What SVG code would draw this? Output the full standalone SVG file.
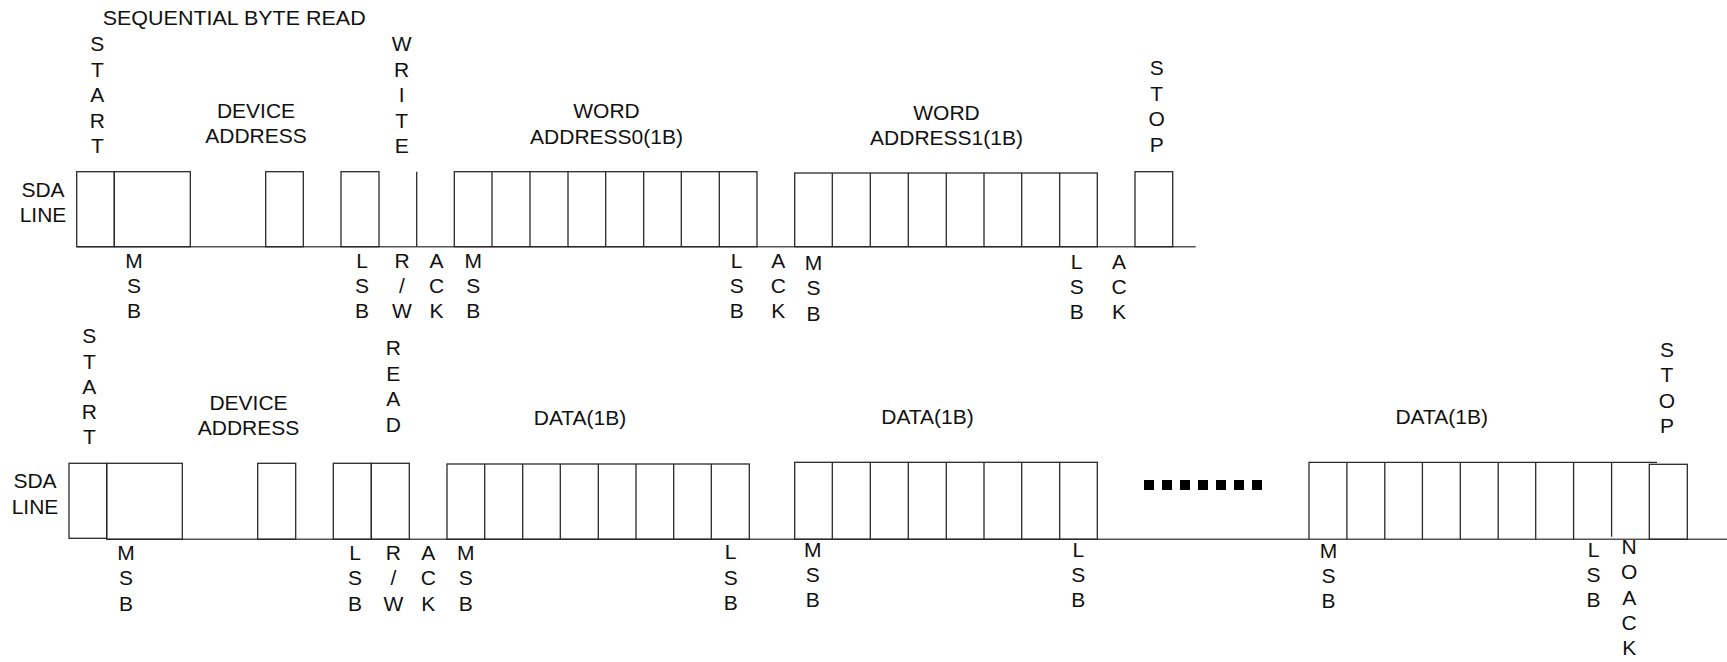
<svg xmlns="http://www.w3.org/2000/svg" width="1727" height="662" viewBox="0 0 1727 662">
<style>
text{font-family:"Liberation Sans",Arial,sans-serif;font-size:21px;fill:#111}
.c{text-anchor:middle}
.w{fill:none;stroke:#2a2a2a;stroke-width:1.3}
.b{fill:none;stroke:#555;stroke-width:1.6}
.d{fill:#000}
</style>
<rect width="1727" height="662" fill="#fff"/>
<text id="title" x="102.7" y="25" textLength="263" lengthAdjust="spacingAndGlyphs">SEQUENTIAL BYTE READ</text>

<g id="row1-labels" class="c">
<text class="c" x="43" y="197">SDA</text><text class="c" x="43" y="222">LINE</text>
<text class="c" x="97.3"><tspan x="97.3" y="51">S</tspan><tspan x="97.3" dy="25.5">T</tspan><tspan x="97.3" dy="25.5">A</tspan><tspan x="97.3" dy="25.5">R</tspan><tspan x="97.3" dy="25.5">T</tspan></text>
<text class="c" x="256" y="118">DEVICE</text><text class="c" x="256" y="143">ADDRESS</text>
<text class="c"><tspan x="401.7" y="51">W</tspan><tspan x="401.7" dy="25.5">R</tspan><tspan x="401.7" dy="25.5">I</tspan><tspan x="401.7" dy="25.5">T</tspan><tspan x="401.7" dy="25.5">E</tspan></text>
<text class="c" x="606.5" y="118.3">WORD</text><text class="c" x="606.5" y="144">ADDRESS0(1B)</text>
<text class="c" x="946.5" y="120">WORD</text><text class="c" x="946.5" y="145.3">ADDRESS1(1B)</text>
<text class="c"><tspan x="1156.7" y="75">S</tspan><tspan x="1156.7" dy="25.5">T</tspan><tspan x="1156.7" dy="25.5">O</tspan><tspan x="1156.7" dy="25.5">P</tspan></text>
<text class="c"><tspan x="134" y="268">M</tspan><tspan x="134" dy="25">S</tspan><tspan x="134" dy="25">B</tspan></text>
<text class="c"><tspan x="362" y="268">L</tspan><tspan x="362" dy="25">S</tspan><tspan x="362" dy="25">B</tspan></text>
<text class="c"><tspan x="402" y="268">R</tspan><tspan x="402" dy="25">/</tspan><tspan x="402" dy="25">W</tspan></text>
<text class="c"><tspan x="436.5" y="268">A</tspan><tspan x="436.5" dy="25">C</tspan><tspan x="436.5" dy="25">K</tspan></text>
<text class="c"><tspan x="473.3" y="268">M</tspan><tspan x="473.3" dy="25">S</tspan><tspan x="473.3" dy="25">B</tspan></text>
<text class="c"><tspan x="736.7" y="268">L</tspan><tspan x="736.7" dy="25">S</tspan><tspan x="736.7" dy="25">B</tspan></text>
<text class="c"><tspan x="778.3" y="268">A</tspan><tspan x="778.3" dy="25">C</tspan><tspan x="778.3" dy="25">K</tspan></text>
<text class="c"><tspan x="813.5" y="269.5">M</tspan><tspan x="813.5" dy="25.6">S</tspan><tspan x="813.5" dy="25.6">B</tspan></text>
<text class="c"><tspan x="1076.7" y="268.5">L</tspan><tspan x="1076.7" dy="25.3">S</tspan><tspan x="1076.7" dy="25.3">B</tspan></text>
<text class="c"><tspan x="1119" y="268.5">A</tspan><tspan x="1119" dy="25.3">C</tspan><tspan x="1119" dy="25.3">K</tspan></text>
</g>

<g id="row1-wave">
<path class="b" d="M76.7 246.7H1195.7"/>
<rect class="w" x="76.7" y="171.7" width="37.6" height="75"/>
<rect class="w" x="114.3" y="171.7" width="76" height="75"/>
<rect class="w" x="265.7" y="171.7" width="37.6" height="75"/>
<rect class="w" x="341" y="171.7" width="38" height="75"/>
<path class="w" d="M416.7 171.7V246.7"/>
<rect class="w" x="454.3" y="171.7" width="302.7" height="75"/>
<path class="w" d="M492 171.7V246.7M530 171.7V246.7M568 171.7V246.7M605.7 171.7V246.7M643.7 171.7V246.7M681.3 171.7V246.7M719.3 171.7V246.7"/>
<rect class="w" x="794.7" y="173" width="302.6" height="73.7"/>
<path class="w" d="M832.3 173V246.7M870.3 173V246.7M908.3 173V246.7M946.3 173V246.7M984 173V246.7M1021.7 173V246.7M1059.7 173V246.7"/>
<rect class="w" x="1135" y="171.7" width="37.7" height="75"/>
</g>

<g id="row2-labels">
<text class="c" x="35" y="488.3">SDA</text><text class="c" x="35" y="514.3">LINE</text>
<text class="c"><tspan x="89.3" y="343.3">S</tspan><tspan x="89.3" dy="25.25">T</tspan><tspan x="89.3" dy="25.25">A</tspan><tspan x="89.3" dy="25.25">R</tspan><tspan x="89.3" dy="25.25">T</tspan></text>
<text class="c" x="248.5" y="410">DEVICE</text><text class="c" x="248.5" y="435">ADDRESS</text>
<text class="c"><tspan x="393.3" y="355">R</tspan><tspan x="393.3" dy="25.6">E</tspan><tspan x="393.3" dy="25.6">A</tspan><tspan x="393.3" dy="25.6">D</tspan></text>
<text class="c" x="580" y="425">DATA(1B)</text>
<text class="c" x="927.5" y="424.3">DATA(1B)</text>
<text class="c" x="1441.7" y="424.3">DATA(1B)</text>
<text class="c"><tspan x="1667" y="356.7">S</tspan><tspan x="1667" dy="25.5">T</tspan><tspan x="1667" dy="25.5">O</tspan><tspan x="1667" dy="25.5">P</tspan></text>
<text class="c"><tspan x="126" y="560">M</tspan><tspan x="126" dy="25.3">S</tspan><tspan x="126" dy="25.3">B</tspan></text>
<text class="c"><tspan x="355" y="560">L</tspan><tspan x="355" dy="25.3">S</tspan><tspan x="355" dy="25.3">B</tspan></text>
<text class="c"><tspan x="393.3" y="560">R</tspan><tspan x="393.3" dy="25.3">/</tspan><tspan x="393.3" dy="25.3">W</tspan></text>
<text class="c"><tspan x="428.3" y="560">A</tspan><tspan x="428.3" dy="25.3">C</tspan><tspan x="428.3" dy="25.3">K</tspan></text>
<text class="c"><tspan x="465.7" y="560">M</tspan><tspan x="465.7" dy="25.3">S</tspan><tspan x="465.7" dy="25.3">B</tspan></text>
<text class="c"><tspan x="730.7" y="559.3">L</tspan><tspan x="730.7" dy="25.3">S</tspan><tspan x="730.7" dy="25.3">B</tspan></text>
<text class="c"><tspan x="812.7" y="557.3">M</tspan><tspan x="812.7" dy="25">S</tspan><tspan x="812.7" dy="25">B</tspan></text>
<text class="c"><tspan x="1078.3" y="557.3">L</tspan><tspan x="1078.3" dy="25">S</tspan><tspan x="1078.3" dy="25">B</tspan></text>
<text class="c"><tspan x="1328.5" y="558.3">M</tspan><tspan x="1328.5" dy="25">S</tspan><tspan x="1328.5" dy="25">B</tspan></text>
<text class="c"><tspan x="1593.5" y="557.3">L</tspan><tspan x="1593.5" dy="25">S</tspan><tspan x="1593.5" dy="25">B</tspan></text>
<text class="c"><tspan x="1629.2" y="554">N</tspan><tspan x="1629.2" dy="25.25">O</tspan><tspan x="1629.2" dy="25.25">A</tspan><tspan x="1629.2" dy="25.25">C</tspan><tspan x="1629.2" dy="25.25">K</tspan></text>
</g>

<g id="row2-wave">
<path class="b" d="M106.7 539.3H1727"/>
<rect class="w" x="69" y="463.3" width="37.7" height="75"/>
<rect class="w" x="106.7" y="463.3" width="75.6" height="76"/>
<rect class="w" x="257.7" y="463.3" width="38" height="76"/>
<rect class="w" x="333.3" y="463.3" width="38" height="76"/>
<rect class="w" x="371.3" y="463.3" width="38" height="76"/>
<rect class="w" x="447" y="464" width="302.3" height="75.3"/>
<path class="w" d="M484.7 464V539.3M522.7 464V539.3M560.3 464V539.3M598.3 464V539.3M636 464V539.3M673.7 464V539.3M711.3 464V539.3"/>
<rect class="w" x="794.7" y="462.3" width="302.6" height="77"/>
<path class="w" d="M832.3 462.3V539.3M870.3 462.3V539.3M908.3 462.3V539.3M946.3 462.3V539.3M984 462.3V539.3M1021.7 462.3V539.3M1059.7 462.3V539.3"/>
<path class="w" d="M1309 539.3V462.3H1657M1346.9 462.3V539.3M1384.8 462.3V539.3M1422.4 462.3V539.3M1460.3 462.3V539.3M1498.2 462.3V539.3M1535.7 462.3V539.3M1573.6 462.3V539.3M1611.6 462.3V536.7"/>
<rect class="w" x="1649.3" y="464.3" width="38" height="75"/>
<g class="d">
<rect x="1144" y="480" width="10" height="10"/><rect x="1162" y="480" width="10" height="10"/><rect x="1180" y="480" width="10" height="10"/><rect x="1198" y="480" width="10" height="10"/><rect x="1216" y="480" width="10" height="10"/><rect x="1234" y="480" width="10" height="10"/><rect x="1252" y="480" width="10" height="10"/>
</g>
</g>
</svg>
